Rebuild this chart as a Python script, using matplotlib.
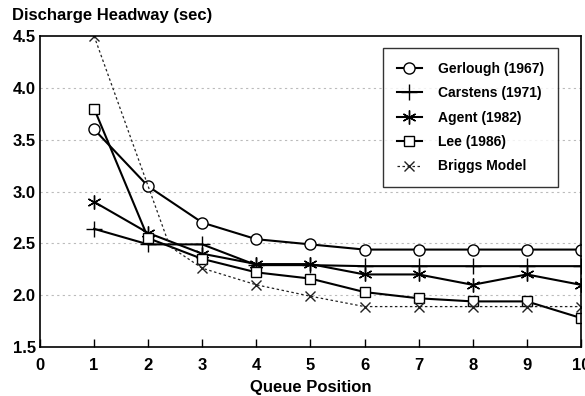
import matplotlib
matplotlib.use("Agg")
import matplotlib.pyplot as plt

plt.rcParams['font.family'] = ['Liberation Sans', 'DejaVu Sans']
plt.rcParams['font.weight'] = 'bold'

positions = [1, 2, 3, 4, 5, 6, 7, 8, 9, 10]
gerlough = [3.60, 3.05, 2.70, 2.54, 2.49, 2.44, 2.44, 2.44, 2.44, 2.44]
carstens = [2.64, 2.49, 2.49, 2.29, 2.29, 2.28, 2.28, 2.28, 2.28, 2.28]
agent = [2.90, 2.60, 2.40, 2.30, 2.30, 2.20, 2.20, 2.10, 2.20, 2.10]
lee = [3.80, 2.55, 2.35, 2.22, 2.16, 2.03, 1.97, 1.94, 1.94, 1.78]
briggs_x = [1, 2.4, 3, 4, 5, 6, 7, 8, 9, 10]
briggs = [4.50, 2.47, 2.26, 2.10, 1.99, 1.89, 1.89, 1.89, 1.89, 1.89]

fig = plt.figure(figsize=(5.85, 3.96), dpi=100)
ax = fig.add_axes([0.0684, 0.1237, 0.9246, 0.7853])

lw = 1.5
ax.plot(positions, gerlough, color='black', lw=lw, marker='o', ms=8,
        mfc='white', mec='black', mew=1.0, label='Gerlough (1967)')
ax.plot(positions, carstens, color='black', lw=lw, marker='+', ms=12,
        mew=1.0, label='Carstens (1971)')
ax.plot(positions, agent, color='black', lw=lw, marker=(6, 2, 0), ms=10,
        mew=1.0, label='Agent (1982)')
ax.plot(positions, lee, color='black', lw=lw, marker='s', ms=7,
        mfc='white', mec='black', mew=1.0, label='Lee (1986)')
ax.plot(briggs_x, briggs, color='#222222', lw=0.9, ls=(0, (2, 2)), marker='x',
        ms=7, mew=1.0, markevery=[0, 2, 3, 4, 5, 6, 7, 8, 9],
        label='Briggs Model')

ax.set_xlim(0, 10)
ax.set_ylim(1.5, 4.5)
ax.set_xticks(range(0, 11))
ax.set_yticks([1.5, 2.0, 2.5, 3.0, 3.5, 4.0, 4.5])
ax.set_yticklabels(['1.5', '2.0', '2.5', '3.0', '3.5', '4.0', '4.5'])
ax.tick_params(axis='x', direction='in', length=6, width=1, labelsize=12, pad=8)
ax.tick_params(axis='y', length=0, labelsize=12, pad=3)
for lbl in ax.get_xticklabels() + ax.get_yticklabels():
    lbl.set_fontweight('bold')

for y in [2.0, 2.5, 3.0, 3.5, 4.0]:
    ax.axhline(y, color='#bbbbbb', lw=0.8, ls=(0, (2, 3)), zorder=0)

for s in ax.spines.values():
    s.set_linewidth(1.2)

ax.set_xlabel('Queue Position', fontsize=12, fontweight='bold', labelpad=5)
fig.text(0.0205, 0.942, 'Discharge Headway (sec)', fontsize=12,
         fontweight='bold', ha='left', va='bottom')

leg = ax.legend(loc='upper right', bbox_to_anchor=(0.958, 0.962), frameon=True,
                fancybox=False, edgecolor='black',
                prop={'weight': 'bold', 'size': 10}, handlelength=1.8,
                labelspacing=0.75, borderpad=1.0, handletextpad=1.2,
                borderaxespad=0)
leg.get_frame().set_linewidth(1.0)

fig.savefig('out.png', dpi=100)
